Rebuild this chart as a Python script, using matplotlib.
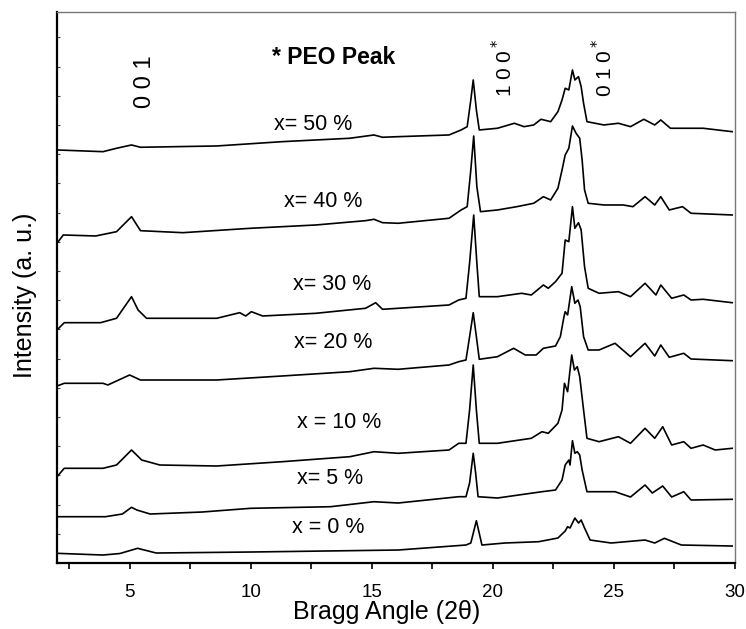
import numpy as np
import matplotlib
matplotlib.use("Agg")
import matplotlib.pyplot as plt
from matplotlib.ticker import MultipleLocator

plt.rcParams['font.family'] = ['Liberation Sans', 'DejaVu Sans']

# XRD patterns: (2theta, intensity a.u.), stacked
x0_pts = [(2.0, 9.7), (3.9, 8), (4.6, 9.5), (5.33, 14.7), (6.1, 10), (10, 11), (16.1, 13),
          (18.9, 18), (19.1, 20), (19.33, 42.3), (19.56, 18), (20.5, 20), (21.9, 21.3),
          (22.7, 25), (23.0, 32), (23.1, 36.3), (23.2, 35), (23.4, 45), (23.55, 40),
          (23.66, 43), (23.8, 35), (24.03, 23), (24.9, 20), (26.3, 23), (26.7, 20),
          (27.1, 24.7), (27.8, 18), (29.9, 17)]
x5_pts = [(2.0, 46.3), (4.0, 46.3), (4.7, 49), (5.08, 55.7), (5.3, 53), (5.85, 49), (8, 51),
          (10, 54.7), (13.3, 56.3), (15.1, 61.3), (16.1, 60), (18.6, 66.3), (18.9, 66.3),
          (19.05, 80), (19.2, 109.7), (19.3, 90), (19.4, 66.3), (20.2, 65), (22.04, 71.3),
          (22.6, 73), (22.87, 83), (23.0, 98), (23.15, 103), (23.2, 98), (23.3, 122.3),
          (23.4, 109.7), (23.5, 111.3), (23.6, 108), (23.7, 93), (23.9, 71.3), (25.06, 71.3),
          (25.7, 66), (26.3, 78), (26.6, 70), (27.03, 77), (27.4, 66), (27.9, 71.3),
          (28.2, 63), (29.9, 63.7)]
x10_pts = [(2.0, 86.3), (2.3, 94.7), (3.9, 94.7), (4.46, 98), (5.08, 113), (5.5, 103),
           (6.25, 98), (8.6, 97), (11.3, 101.3), (14.1, 106.3), (15.1, 111.3), (16.1, 109.7),
           (18.2, 113), (18.6, 119.7), (18.9, 119.7), (19.05, 153), (19.2, 198), (19.33, 153),
           (19.45, 119.7), (20.2, 119.7), (21.6, 124.7), (22.04, 131.3), (22.3, 129.7),
           (22.7, 139.7), (22.87, 153), (22.97, 179.7), (23.1, 171.3), (23.27, 208),
           (23.38, 193), (23.5, 196.3), (23.6, 186.3), (23.76, 153), (23.9, 124.7),
           (24.4, 121.3), (25.2, 126.3), (25.7, 119.7), (26.3, 134.7), (26.7, 124.7),
           (27.03, 136.3), (27.4, 118), (27.9, 121.3), (28.2, 114.7), (28.7, 118),
           (29.2, 113), (29.9, 114.7)]
x20_pts = [(2.0, 177), (2.3, 179.7), (3.9, 179.7), (4.1, 178), (4.46, 182), (5.0, 188),
           (5.45, 183), (8.6, 183), (11.3, 187), (14.1, 191.3), (15.1, 194.7), (16.1, 193.7),
           (18.2, 198), (18.6, 201.3), (18.9, 203), (19.05, 226.3), (19.2, 250.3),
           (19.33, 226.3), (19.45, 203.7), (20.2, 206.3), (20.87, 214.7), (21.35, 208),
           (21.8, 208), (22.1, 214.7), (22.6, 217), (22.8, 226.3), (22.95, 246.3),
           (23.0, 251.3), (23.1, 248), (23.27, 276.3), (23.4, 259.7), (23.53, 263),
           (23.62, 256.3), (23.76, 226.3), (23.95, 213), (24.4, 213), (25.06, 219.7),
           (25.7, 206.3), (26.3, 219.7), (26.7, 207), (26.95, 218), (27.3, 205.7),
           (27.9, 209.7), (28.2, 204), (29.9, 202.3)]
x30_pts = [(2.0, 233), (2.3, 240.3), (3.8, 240.3), (4.46, 244.7), (5.08, 266.3), (5.35, 253),
           (5.7, 244.7), (8.6, 244.7), (9.55, 250.3), (9.8, 247), (10.03, 251.3), (10.5, 247),
           (12.7, 249.7), (14.75, 254.7), (15.17, 260.3), (15.45, 253.7), (16.1, 254.7),
           (18.2, 258), (18.6, 263), (18.9, 264.7), (19.05, 300), (19.22, 348), (19.35, 300),
           (19.45, 266.3), (20.2, 266.3), (21.2, 269.7), (21.6, 268), (22.1, 278),
           (22.3, 274.7), (22.6, 281.3), (22.87, 289.7), (23.0, 323), (23.15, 321.3),
           (23.3, 356.3), (23.4, 334.7), (23.55, 340.3), (23.66, 333), (23.8, 296.3),
           (23.95, 274.7), (24.4, 269.7), (25.2, 271.3), (25.7, 266.3), (26.3, 279.7),
           (26.75, 268), (26.95, 278), (27.4, 264.7), (27.9, 268), (28.2, 263),
           (28.7, 263.7), (29.9, 260.3)]
x40_pts = [(2.0, 319.7), (2.26, 328), (3.6, 327), (4.46, 331.3), (5.08, 346.3), (5.45, 332.3),
           (7.2, 330.3), (10.0, 334.7), (12.7, 338), (14.75, 342.3), (15.1, 343.7),
           (15.45, 340.3), (16.1, 339.7), (18.2, 344.7), (18.7, 353), (18.95, 356.3),
           (19.1, 393), (19.22, 427), (19.35, 376.3), (19.5, 351.3), (20.2, 353),
           (21.0, 356.3), (21.7, 359.7), (22.1, 366.3), (22.4, 363), (22.7, 374.7),
           (22.87, 393), (23.0, 408), (23.15, 414.7), (23.3, 437), (23.45, 429.7),
           (23.6, 424.7), (23.7, 403), (23.8, 373), (23.95, 359.7), (24.6, 358), (25.4, 358),
           (25.8, 356.3), (26.3, 366.3), (26.7, 358), (26.95, 366.3), (27.3, 353),
           (27.85, 356.3), (28.2, 349.7), (29.9, 348)]
x50_pts = [(2.0, 413), (3.9, 411.3), (4.46, 414.7), (5.08, 418), (5.45, 415.7), (8.6, 417),
           (11.3, 421.3), (14.1, 424.7), (15.1, 428), (15.45, 425.7), (16.1, 426.3),
           (18.2, 428), (18.7, 433), (18.95, 436.3), (19.1, 463), (19.2, 483), (19.33, 453),
           (19.45, 433), (20.2, 434.7), (20.9, 439.7), (21.3, 436.3), (21.7, 438),
           (22.0, 443.7), (22.4, 441.3), (22.7, 451.3), (22.87, 463), (23.0, 474.7),
           (23.15, 473), (23.3, 493), (23.4, 483), (23.55, 486.3), (23.66, 476.3),
           (23.76, 459.7), (23.9, 441.3), (24.6, 438), (25.2, 439.7), (25.7, 436.3),
           (26.25, 443.7), (26.7, 438), (26.95, 443), (27.35, 434.7), (27.85, 434.7),
           (28.7, 434.7), (29.9, 431.3)]

series = [x0_pts, x5_pts, x10_pts, x20_pts, x30_pts, x40_pts, x50_pts]

labels = ['x = 0 %', 'x= 5 %', 'x = 10 %', 'x= 20 %', 'x= 30 %', 'x= 40 %', 'x= 50 %']
label_x = [11.7, 11.9, 11.9, 11.8, 11.75, 11.4, 10.95]
label_y = [36, 85, 141, 220, 278, 361, 438]

fig = plt.figure(figsize=(7.46, 6.29), dpi=100)
ax = fig.add_axes([0.0764, 0.1049, 0.9083, 0.8761])

for pts in series:
    xs = [p[0] for p in pts]
    ys = [p[1] for p in pts]
    ax.plot(xs, ys, color='k', lw=1.2)

for lab, lx, ly in zip(labels, label_x, label_y):
    ax.text(lx, ly, lab, fontsize=15.5, ha='left', va='center')

ax.text(10.9, 505, '* PEO Peak', fontsize=16.5, fontweight='bold', ha='left', va='center')
ax.text(5.65, 481, '0 0 1', fontsize=17, rotation=90, ha='center', va='center')
ax.text(20.45, 495, '1 0 0$^*$', fontsize=15, rotation=90, ha='center', va='center')
ax.text(24.6, 495, '0 1 0$^*$', fontsize=15, rotation=90, ha='center', va='center')

ax.set_xlim(2, 30)
ax.set_ylim(0, 551)
ax.xaxis.set_major_locator(MultipleLocator(5))
ax.xaxis.set_minor_locator(MultipleLocator(2.5))
ax.yaxis.set_major_locator(MultipleLocator(29.2))
ax.set_yticklabels([])
ax.tick_params(axis='x', which='both', direction='out', length=4, width=1.2,
               labelsize=13.5, pad=11)
ax.tick_params(axis='y', direction='in', length=2.2, width=0.8, color='#444444')

for side in ['left', 'bottom']:
    ax.spines[side].set_linewidth(1.6)
    ax.spines[side].set_color('k')
for side in ['top', 'right']:
    ax.spines[side].set_linewidth(1.0)
    ax.spines[side].set_color('#777777')

ax.set_xlabel('Bragg Angle (2θ)', fontsize=18)
ax.set_ylabel('Intensity (a. u.)', fontsize=18)
ax.xaxis.set_label_coords(0.487, -0.068)
ax.yaxis.set_label_coords(-0.029, 0.485)

fig.savefig('out.png', dpi=100)
